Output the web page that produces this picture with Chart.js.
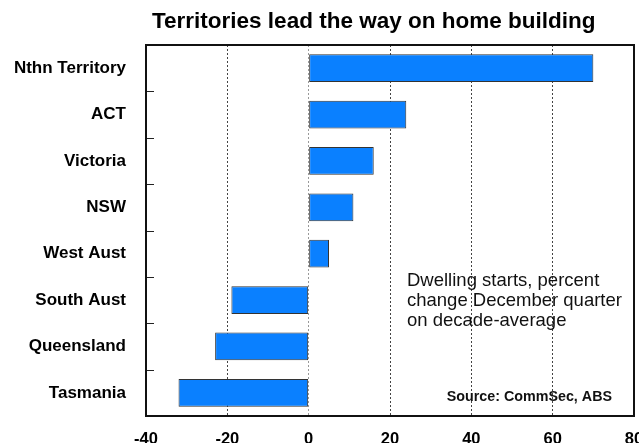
<!DOCTYPE html>
<html>
<head>
<meta charset="utf-8">
<script src="https://cdn.jsdelivr.net/npm/chart.js@4/dist/chart.umd.min.js"></script>
<style>
  html, body { margin: 0; padding: 0; background: #fff; overflow: hidden; }
  #wrap { width: 639px; height: 443px; }
</style>
</head>
<body>
<div id="wrap"><canvas id="chart"></canvas></div>
<script>
// data
const regions = ['Nthn Territory', 'ACT', 'Victoria', 'NSW', 'West Aust', 'South Aust', 'Queensland', 'Tasmania'];
const changes = [70, 24, 16, 11, 5, -19, -23, -32];
const xTicks = [-40, -20, 0, 20, 40, 60, 80];
const titleText = 'Territories lead the way on home building';
const noteLines = ['Dwelling starts, percent', 'change December quarter', 'on decade-average'];
const sourceText = 'Source: CommSec, ABS';

const FONT = '"Liberation Sans", Arial, sans-serif';

// frame round the plot, little inward ticks, title and the texts
const extras = {
    id: 'extras',
    afterDatasetsDraw(chart) {
        const { ctx, chartArea: a } = chart;
        const y = chart.scales.y;
        ctx.save();
        ctx.strokeStyle = '#222';
        ctx.lineWidth = 1;
        for (let i = 1; i < regions.length; i++) {
            const py = Math.round(y.getPixelForValue(i - 0.5)) + 0.5;
            ctx.beginPath();
            ctx.moveTo(a.left, py);
            ctx.lineTo(a.left + 8, py);
            ctx.stroke();
        }
        ctx.lineWidth = 2;
        ctx.strokeStyle = '#111';
        ctx.strokeRect(a.left, a.top, a.right - a.left, a.bottom - a.top);

        // title
        ctx.fillStyle = '#000';
        ctx.font = 'bold 22.5px ' + FONT;
        ctx.textAlign = 'left';
        ctx.textBaseline = 'alphabetic';
        ctx.fillText(titleText, 152, 28);

        ctx.fillStyle = '#111';
        ctx.font = '18.5px ' + FONT;
        ctx.textBaseline = 'middle';
        noteLines.forEach((t, i) => ctx.fillText(t, 407, 281 + i * 20));

        ctx.font = 'bold 14.3px ' + FONT;
        ctx.textAlign = 'right';
        ctx.fillText(sourceText, 612, 397);
        ctx.restore();
    }
};

new Chart(document.getElementById('chart'), {
    type: 'bar',
    data: {
        labels: regions,
        datasets: [{
            data: changes,
            backgroundColor: '#0a80ff',
            borderColor: '#333',
            borderWidth: 1,
            borderSkipped: false,
            categoryPercentage: 1,
            barPercentage: 0.6
        }]
    },
    options: {
        indexAxis: 'y',
        responsive: true,
        maintainAspectRatio: false,
        animation: false,
        layout: { padding: { left: 0, right: 5, top: 45, bottom: 0 } },
        plugins: {
            legend: { display: false },
            tooltip: { enabled: false },
            title: { display: false }
        },
        scales: {
            x: {
                min: -40,
                max: 80,
                afterBuildTicks(scale) {
                    scale.ticks = xTicks.map(v => ({ value: v }));
                },
                afterFit(scale) {
                    scale.paddingRight = 0;
                    scale.paddingLeft = 0;
                    scale.height = 27;
                },
                grid: {
                    drawTicks: false,
                    color: ctx => ctx.tick && ctx.tick.value === 0 ? '#999' : '#444',
                    lineWidth: 1
                },
                border: { display: false, dash: [2, 2] },
                ticks: {
                    color: '#000',
                    padding: 14,
                    font: { family: FONT, size: 16.5, weight: 'bold' }
                }
            },
            y: {
                afterFit(scale) {
                    scale.width = 146;
                    scale.paddingTop = 0;
                    scale.paddingBottom = 0;
                },
                grid: { display: false },
                border: { display: false },
                ticks: {
                    color: '#000',
                    padding: 12,
                    font: { family: FONT, size: 17, weight: 'bold' }
                }
            }
        }
    },
    plugins: [extras]
});
</script>
</body>
</html>
